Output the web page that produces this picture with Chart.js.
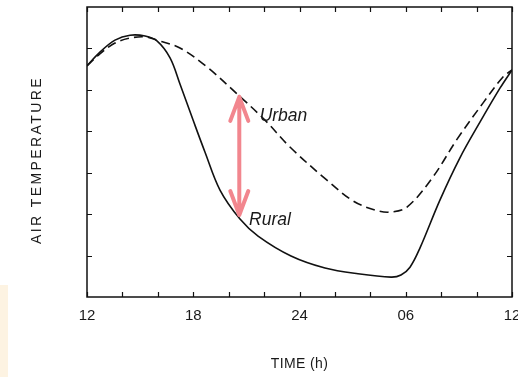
<!DOCTYPE html>
<html>
<head>
<meta charset="utf-8">
<script src="https://cdn.jsdelivr.net/npm/chart.js@4.4.1/dist/chart.umd.min.js"></script>
<style>
  html, body { margin: 0; padding: 0; background: #fff; }
  #wrap { width: 518px; height: 377px; position: relative; }
</style>
</head>
<body>
<div id="wrap"><canvas id="chart"></canvas></div>
<script>
'use strict';

// hours since midday of day 1 (12 .. 36 = 12 next day), temperature in arbitrary units
const ruralHours = [12, 12.73, 13.58, 14.43, 15.28, 15.95, 16.69, 17.25, 17.99, 18.66, 19.51, 20.64,
    21.66, 23.52, 25.44, 27.30, 29.17, 29.73, 30.24, 30.80, 31.93, 33.06, 34.19, 35.32, 36];
const ruralTemp = [5.58, 5.91, 6.20, 6.32, 6.30, 6.18, 5.77, 5.14, 4.27, 3.50, 2.58, 1.88,
    1.47, 0.99, 0.70, 0.56, 0.48, 0.53, 0.72, 1.18, 2.34, 3.36, 4.22, 5.04, 5.48];

const urbanHours = [12, 12.73, 13.58, 14.43, 15.28, 15.95, 17.25, 18.78, 20.53, 22.05, 23.46,
    25.55, 27.02, 28.26, 29.11, 30.07, 31.54, 32.9, 34.36, 35.49, 36];
const urbanTemp = [5.58, 5.87, 6.13, 6.25, 6.28, 6.20, 6.01, 5.55, 4.88, 4.27, 3.62,
    2.82, 2.32, 2.10, 2.05, 2.17, 2.90, 3.81, 4.68, 5.31, 5.48];

// x ticks every 2 h, labels only every 6 h
const xTicks = [12, 14, 16, 18, 20, 22, 24, 26, 28, 30, 32, 34, 36];
const xLabels = { 12: '12', 18: '18', 24: '24', 30: '06', 36: '12' };
const yTicks = [1, 2, 3, 4, 5, 6];

// the heat-island arrow (at 20.6 h, between the two curves)
const arrowHour = 20.6;
const arrowTop = 4.88;
const arrowBottom = 1.93;

// curve labels
const curveLabels = [
    { text: 'Urban', hour: 21.75, temp: 4.25 },
    { text: 'Rural', hour: 21.15, temp: 1.74 },
];

function toXY(hours, temps) {
    return hours.map((h, i) => ({ x: h, y: temps[i] }));
}

const framePlugin = {
    id: 'frame',
    beforeDraw(chart) {
        const ctx = chart.ctx;
        ctx.save();
        ctx.fillStyle = '#fdf3e2';
        ctx.fillRect(0, 285, 8, chart.height - 285);
        ctx.restore();
    },
    afterDatasetsDraw(chart) {
        const { ctx, chartArea: a, scales: { x, y } } = chart;
        ctx.save();

        // box
        ctx.strokeStyle = '#111';
        ctx.lineWidth = 1.5;
        ctx.strokeRect(a.left, a.top, a.right - a.left, a.bottom - a.top);

        // inward ticks
        ctx.lineWidth = 1.2;
        ctx.beginPath();
        xTicks.forEach(t => {
            const px = Math.round(x.getPixelForValue(t)) + 0.5;
            ctx.moveTo(px, a.bottom); ctx.lineTo(px, a.bottom - 5);
            ctx.moveTo(px, a.top); ctx.lineTo(px, a.top + 5);
        });
        yTicks.forEach(t => {
            const py = Math.round(y.getPixelForValue(t)) + 0.5;
            ctx.moveTo(a.left, py); ctx.lineTo(a.left + 5, py);
            ctx.moveTo(a.right, py); ctx.lineTo(a.right - 5, py);
        });
        ctx.stroke();

        // x tick labels
        ctx.fillStyle = '#1a1a1a';
        ctx.font = '15px "Liberation Sans", Arial, sans-serif';
        ctx.textAlign = 'center';
        ctx.textBaseline = 'alphabetic';
        for (const [t, lbl] of Object.entries(xLabels)) {
            ctx.fillText(lbl, x.getPixelForValue(Number(t)), a.bottom + 23);
        }

        // axis titles
        ctx.font = '14px "Liberation Sans", Arial, sans-serif';
        ctx.letterSpacing = '0.4px';
        ctx.fillText('TIME (h)', (a.left + a.right) / 2, 368);
        ctx.save();
        ctx.translate(41, 160);
        ctx.rotate(-Math.PI / 2);
        ctx.letterSpacing = '2.4px';
        ctx.fillText('AIR TEMPERATURE', 0, 0);
        ctx.restore();
        ctx.letterSpacing = '0px';

        // curve labels
        ctx.font = 'italic 17.5px "Liberation Sans", Arial, sans-serif';
        ctx.textAlign = 'left';
        curveLabels.forEach(l => {
            ctx.fillText(l.text, x.getPixelForValue(l.hour), y.getPixelForValue(l.temp));
        });

        // double headed arrow
        const ax = x.getPixelForValue(arrowHour);
        const y1 = y.getPixelForValue(arrowTop);
        const y2 = y.getPixelForValue(arrowBottom);
        ctx.strokeStyle = '#f2868e';
        ctx.lineWidth = 4;
        ctx.lineCap = 'round';
        ctx.lineJoin = 'round';
        ctx.beginPath();
        ctx.moveTo(ax, y1 + 2); ctx.lineTo(ax, y2 - 2);
        ctx.moveTo(ax - 9, y1 + 26); ctx.lineTo(ax, y1 + 2); ctx.lineTo(ax + 9, y1 + 26);
        ctx.moveTo(ax - 9, y2 - 26); ctx.lineTo(ax, y2 - 2); ctx.lineTo(ax + 9, y2 - 26);
        ctx.stroke();

        ctx.restore();
    }
};

const chart = new Chart(document.getElementById('chart'), {
    type: 'line',
    data: {
        datasets: [{
            label: 'Rural',
            data: toXY(ruralHours, ruralTemp),
            borderColor: '#111',
            borderWidth: 1.6,
            pointRadius: 0,
            tension: 0.35,
            fill: false,
        }, {
            label: 'Urban',
            data: toXY(urbanHours, urbanTemp),
            borderColor: '#111',
            borderWidth: 1.6,
            borderDash: [9, 5],
            pointRadius: 0,
            tension: 0.35,
            fill: false,
        }]
    },
    options: {
        responsive: true,
        maintainAspectRatio: false,
        animation: false,
        layout: { padding: { left: 87, right: 6, top: 7, bottom: 80 } },
        plugins: {
            legend: { display: false },
            tooltip: { enabled: false },
        },
        scales: {
            x: { type: 'linear', min: 12, max: 36, display: false },
            y: { type: 'linear', min: 0, max: 7, display: false },
        },
    },
    plugins: [framePlugin],
});
</script>
</body>
</html>
